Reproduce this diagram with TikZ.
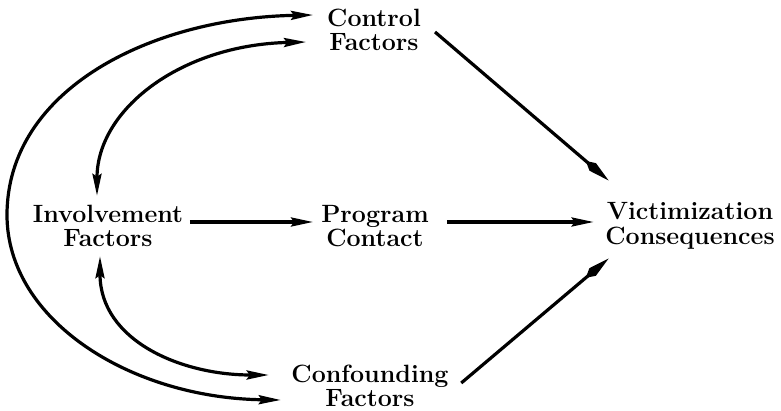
\documentclass[tikz,border=0pt]{standalone}
\usepackage{fontspec}
\usetikzlibrary{arrows.meta}
\begin{document}
\begin{tikzpicture}[x=1pt,y=-1pt,
  lbl/.style={font=\fontsize{25}{24.5}\selectfont\bfseries, align=center, inner sep=0pt},
  tip/.style={line width=3.2pt},
  conn/.style={tip, -{Stealth[length=22pt,width=9pt,inset=3pt]}},
  bconn/.style={tip, {Stealth[length=22pt,width=9pt,inset=3pt]}-{Stealth[length=22pt,width=9pt,inset=3pt]}},
  kconn/.style={tip, -{Kite[length=30pt,width=10pt,inset=9pt]}}]
\useasboundingbox (0,0) rectangle (781,411);
\node[lbl] (ctrl) at (374,30) {Control\\Factors};
\node[lbl] (inv) at (108,226) {Involvement\\Factors};
\node[lbl] (prog) at (375,226) {Program\\Contact};
\node[lbl] (vict) at (690,226) {Victimization\\Consequences};
\node[lbl] (conf) at (370,386) {Confounding\\Factors};
% straight connectors
\draw[conn] ([shift={(6.5,-4)}]inv.east) -- ([shift={(-8,-4)}]prog.west);
\draw[conn] ([shift={(18,-4)}]prog.east) -- ([shift={(-11.5,-4)}]vict.west);
\draw[kconn] ([shift={(14,2)}]ctrl.east) -- ([shift={(3.5,-22)}]vict.north west);
\draw[kconn] ([shift={(12.5,-3)}]conf.east) -- ([shift={(3.5,9)}]vict.south west);
% curved connectors
\draw[bconn] ([shift={(-10.5,14)}]conf.west) .. controls (130,398) and (7,320) .. (7,215)
  .. controls (7,90) and (150,18) .. ([shift={(-14,-15)}]ctrl.west);
\draw[bconn] ([shift={(-11,-9)}]inv.north) .. controls (97,110) and (180,45) .. ([shift={(-21,12)}]ctrl.west);
\draw[bconn] ([shift={(-8,9)}]inv.south) .. controls (100,340) and (180,375) .. ([shift={(-22.5,-11)}]conf.west);
\end{tikzpicture}
\end{document}
